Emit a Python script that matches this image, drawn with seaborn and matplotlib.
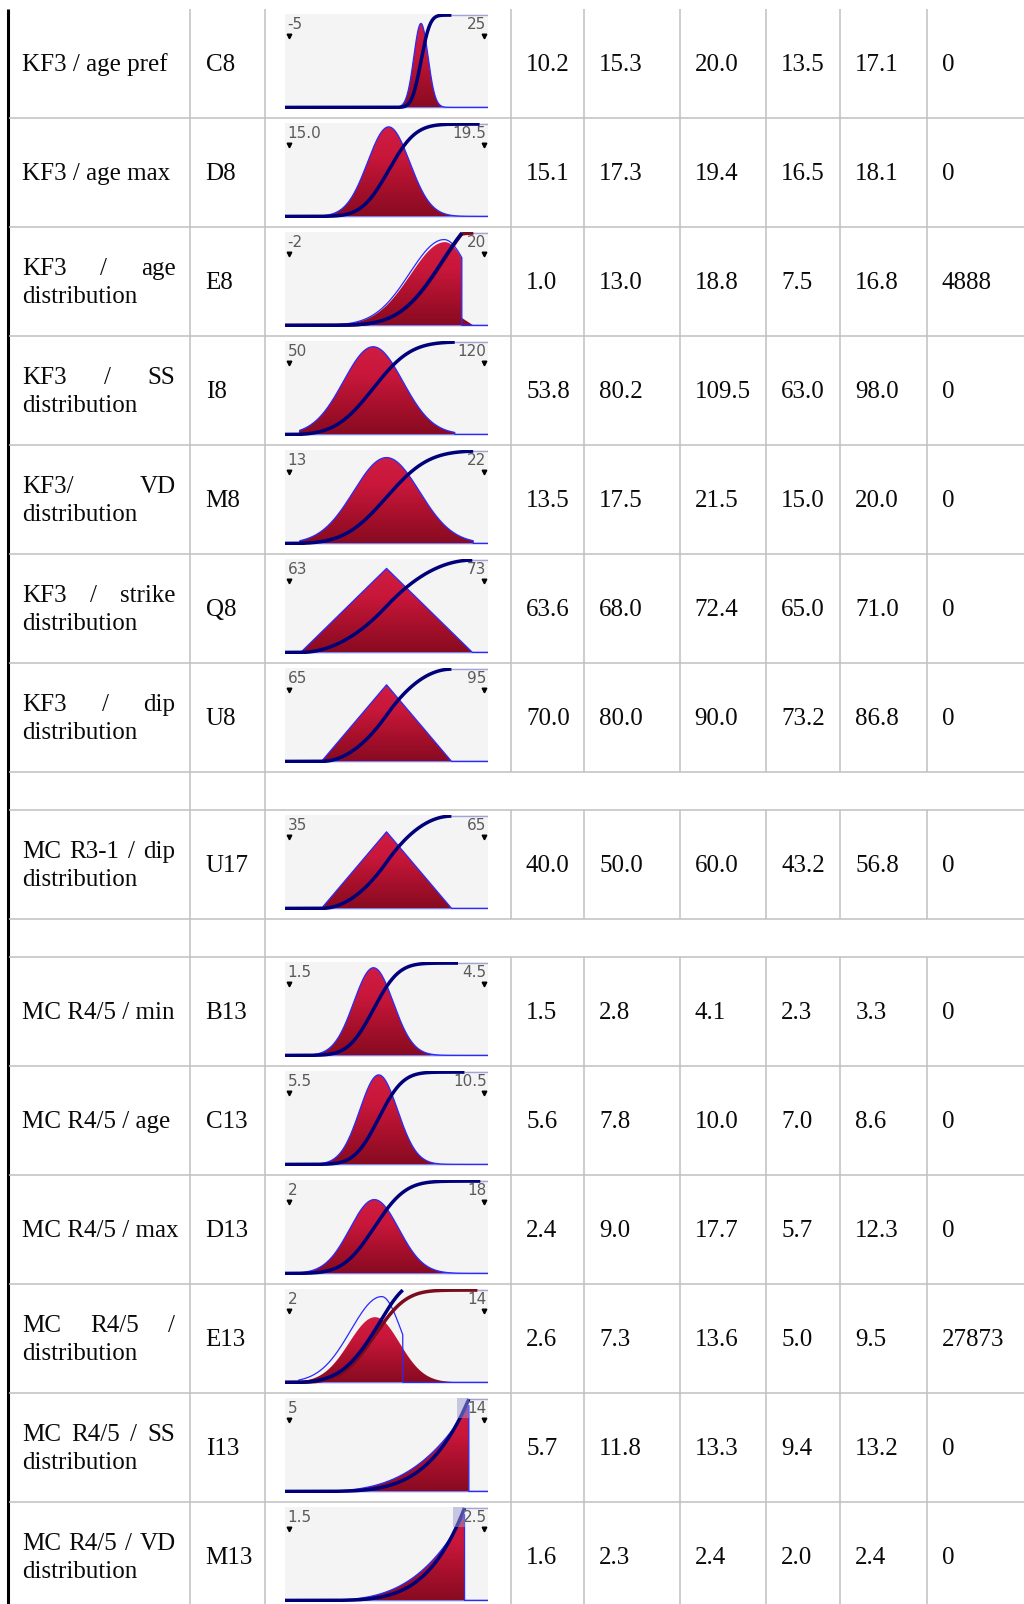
import numpy as np
import matplotlib
matplotlib.use("Agg")
import matplotlib.pyplot as plt
import matplotlib.transforms as mtransforms
from matplotlib.colors import LinearSegmentedColormap
from matplotlib.patches import Rectangle
import seaborn as sns

sns.set_theme(style="white")
plt.rcParams["font.family"] = ["Liberation Serif", "DejaVu Serif"]

# ---------------------------------------------------------------- table data
# "data" rows carry a distribution, "gap" rows are empty separator rows
row_kinds = ["data"] * 7 + ["gap"] + ["data"] + ["gap"] + ["data"] * 6

names = [
    "KF3 / age pref",
    "KF3 / age max",
    "KF3 / age\ndistribution",
    "KF3 / SS\ndistribution",
    "KF3/ VD\ndistribution",
    "KF3 / strike\ndistribution",
    "KF3 / dip\ndistribution",
    "MC R3-1 / dip\ndistribution",
    "MC R4/5 / min",
    "MC R4/5 / age",
    "MC R4/5 / max",
    "MC R4/5 /\ndistribution",
    "MC R4/5 / SS\ndistribution",
    "MC R4/5 / VD\ndistribution",
]
cells = ["C8", "D8", "E8", "I8", "M8", "Q8", "U8", "U17",
         "B13", "C13", "D13", "E13", "I13", "M13"]
p_min = [10.2, 15.1, 1.0, 53.8, 13.5, 63.6, 70.0, 40.0, 1.5, 5.6, 2.4, 2.6, 5.7, 1.6]
p_mean = [15.3, 17.3, 13.0, 80.2, 17.5, 68.0, 80.0, 50.0, 2.8, 7.8, 9.0, 7.3, 11.8, 2.3]
p_max = [20.0, 19.4, 18.8, 109.5, 21.5, 72.4, 90.0, 60.0, 4.1, 10.0, 17.7, 13.6, 13.3, 2.4]
p_05 = [13.5, 16.5, 7.5, 63.0, 15.0, 65.0, 73.2, 43.2, 2.3, 7.0, 5.7, 5.0, 9.4, 2.0]
p_95 = [17.1, 18.1, 16.8, 98.0, 20.0, 71.0, 86.8, 56.8, 3.3, 8.6, 12.3, 9.5, 13.2, 2.4]
errors = [0, 0, 4888, 0, 0, 0, 0, 0, 0, 0, 0, 27873, 0, 0]
dist = ["normal", "normal", "sample", "normal", "normal", "triang", "triang", "triang",
        "normal", "normal", "normal", "sample", "power", "power"]
axis_lo = ["-5", "15.0", "-2", "50", "13", "63", "65", "35", "1.5", "5.5", "2", "2", "5", "1.5"]
axis_hi = ["25", "19.5", "20", "120", "22", "73", "95", "65", "4.5", "10.5", "18", "14", "14", "2.5"]
peak_h = [0.91, 0.97, 0.93, 0.95, 0.93, 0.91, 0.83, 0.83, 0.95, 0.97, 0.80, 0.93, 0.93, 0.93]

# sampled rows: fitted curve (mode, left sd, right sd, cut-off)
fit_curve = {"E8": (15.5, 3.9, 2.9, 17.5), "E13": (7.7, 1.9, 1.2, 9.0)}
# sampled rows: histogram (mode, left sd, right sd, cut-off, tail height, relative height)
hist_curve = {"E8": (15.6, 3.9, 2.9, 17.5, 0.09, 0.97), "E13": (7.3, 1.6, 1.5, 13.6, 0.0, 0.76)}

# ---------------------------------------------------------------- layout
W, H, DPI = 1024, 1604, 100
TABLE_TOP = 8.5
ROW_H = {"data": 109.0, "gap": 38.0}
COL_LINES = [190, 265, 510.5, 584, 679.7, 766, 840, 927]
NAME_X0, NAME_X1 = 22, 175.5
CELL_X = 205.7
NUM_X = [526, 599.3, 694.7, 781.3, 855.3, 942]
THUMB_X0, THUMB_X1 = 285, 488
GRID_COLOR = "#c0c0c0"
TEXT_COLOR = "#0a0a0a"
FS = 18.0

fig = plt.figure(figsize=(W / DPI, H / DPI), dpi=DPI, facecolor="white")
bg = fig.add_axes([0, 0, 1, 1])
bg.set_xlim(0, W)
bg.set_ylim(H, 0)
bg.axis("off")
renderer = fig.canvas.get_renderer()

red_cmap = LinearSegmentedColormap.from_list("crimson", ["#880b21", "#a8102c", "#c8173b", "#d01c42"])


def put_line(text, y, justify):
    kw = dict(fontsize=FS, color=TEXT_COLOR, va="baseline", ha="left")
    words = text.split()
    if not justify or len(words) < 2:
        bg.text(NAME_X0, y, text, **kw)
        return
    arts = [bg.text(0, y, w, **kw) for w in words]
    widths = [a.get_window_extent(renderer).width for a in arts]
    gap = (NAME_X1 - NAME_X0 - sum(widths)) / (len(words) - 1)
    x = NAME_X0
    for a, w in zip(arts, widths):
        a.set_x(x)
        x += w + gap


def split_normal(x, mode, sdl, sdr):
    sd = np.where(x < mode, sdl, sdr)
    return np.exp(-0.5 * ((x - mode) / sd) ** 2)


def cdf_of(x, d):
    c = np.concatenate([[0.0], np.cumsum(0.5 * (d[1:] + d[:-1]) * np.diff(x))])
    return c / c[-1]


def draw_thumb(ax, i):
    lo, hi = float(axis_lo[i]), float(axis_hi[i])
    pad = (hi - lo) * 4 / 195
    x0, x1 = lo - pad, hi + pad
    ax.set_facecolor("#f4f4f4")
    for s in ax.spines.values():
        s.set_visible(False)
    ax.set_xticks([])
    ax.set_yticks([])

    a, m, b = p_min[i], p_mean[i], p_max[i]
    kind = dist[i]
    cuts = [a, b]
    if kind == "sample":
        cuts += [fit_curve[cells[i]][3], hist_curve[cells[i]][3]]
    grid = np.linspace(x0, x1, 1500)
    x = np.sort(np.concatenate([grid, np.array(cuts) - 1e-6, np.array(cuts)]))

    cdfs = []
    if kind == "normal":
        sd = (p_95[i] - p_05[i]) / (2 * 1.645)
        d = np.exp(-0.5 * ((x - m) / sd) ** 2)
        d[(x < a) | (x >= b)] = 0
        fill = d / d.max() * peak_h[i]
        outline = fill
        cdfs.append((x, cdf_of(x, d), b, "#00007a"))
    elif kind == "triang":
        d = np.where(x < m, (x - a) / (m - a), (b - x) / (b - m))
        d = np.clip(d, 0, None)
        fill = d / d.max() * peak_h[i]
        outline = fill
        cdfs.append((x, cdf_of(x, d), b, "#00007a"))
    elif kind == "power":
        shape = np.log(0.05) / np.log((p_05[i] - a) / (b - a))
        u = (x - a) / (b - a)
        d = np.where((u >= 0) & (u < 1), np.clip(u, 0, 1) ** (shape - 1), 0.0)
        fill = d / d.max() * peak_h[i]
        outline = fill
        cdfs.append((x, cdf_of(x, d), b, "#00007a"))
    else:
        fm, fsl, fsr, fcut = fit_curve[cells[i]]
        hm, hsl, hsr, hcut, tail, rel = hist_curve[cells[i]]
        df = split_normal(x, fm, fsl, fsr)
        df[(x < a) | (x >= fcut)] = 0
        dh = split_normal(x, hm, hsl, hsr)
        dh[(x < a) | (x >= hcut)] = 0
        if tail > 0:
            seg = (x >= hcut) & (x < b)
            dh[seg] = tail * (1 - (x[seg] - hcut) / (b - hcut))
        outline = df / df.max() * peak_h[i]
        fill = dh / dh[x < hcut].max() * peak_h[i] * rel
        cdfs.append((x, cdf_of(x, dh), b, "#7a0c1c"))
        cdfs.append((x, cdf_of(x, df), fcut, "#00007a"))

    # thin frame line along zero
    ax.axhline(0, color="#7d7df2", lw=1.0, zorder=1)

    # gradient-filled density
    poly = ax.fill_between(x, 0, fill, facecolor="none", edgecolor="none", zorder=2)
    grad = np.linspace(0, 1, 256).reshape(-1, 1)
    im = ax.imshow(grad, cmap=red_cmap, origin="lower", aspect="auto",
                   extent=[x0, x1, 0, max(fill.max(), 0.01)], zorder=2, interpolation="bilinear")
    im.set_clip_path(poly.get_paths()[0], transform=ax.transData)

    sns.lineplot(x=x, y=outline, ax=ax, color="#2a2aff", lw=0.9, sort=False,
                 estimator=None, zorder=3)

    end_top = max(c[2] for c in cdfs)
    ax.plot([end_top, x1], [1, 1], color="#a3a3d6", lw=1.0, zorder=3)
    for cx, cy, cend, col in cdfs:
        keep = cx <= cend
        sns.lineplot(x=cx[keep], y=cy[keep], ax=ax, color=col, lw=2.5, sort=False,
                     estimator=None, zorder=4, solid_capstyle="butt")

    if kind == "power":
        # translucent marker box where the curve is cut at its upper bound
        w = (x1 - x0) * 12 / 203
        ax.add_patch(Rectangle((b - w, 0.79), w, 0.23, facecolor="#9a9ad0", alpha=0.5,
                               edgecolor="none", zorder=7))

    ax.set_xlim(x0, x1)
    ax.set_ylim(-0.012, 1.012)

    # range labels with small tick markers
    tkw = dict(transform=ax.transAxes, fontsize=11, color="#5a5a5a", va="top",
               family=["DejaVu Sans"], zorder=6)
    ax.text(0.012, 0.965, axis_lo[i], ha="left", **tkw)
    ax.text(0.993, 0.965, axis_hi[i], ha="right", **tkw)
    trans = mtransforms.blended_transform_factory(ax.transData, ax.transAxes)
    ax.plot([lo, hi], [0.765, 0.765], ls="none", marker="v", ms=3.3, color="black",
            transform=trans, zorder=6, clip_on=False)


# ---------------------------------------------------------------- draw table
y = TABLE_TOP
row_tops = []
for k in row_kinds:
    row_tops.append(y)
    y += ROW_H[k]

# grid lines
bg.plot([7.5, 7.5], [TABLE_TOP, H], color="black", lw=2.2, solid_capstyle="butt")
for t in row_tops[1:]:
    bg.plot([8.6, W], [t, t], color=GRID_COLOR, lw=1.1, solid_capstyle="butt")
for cx in COL_LINES:
    for t, k in zip(row_tops, row_kinds):
        if k == "gap" and cx > 300:
            continue
        bg.plot([cx, cx], [t, min(t + ROW_H[k], H)], color=GRID_COLOR, lw=1.1,
                solid_capstyle="butt")

di = 0
for t, k in zip(row_tops, row_kinds):
    if k == "gap":
        continue
    center = t + ROW_H[k] / 2
    lines = names[di].split("\n")
    if len(lines) == 1:
        put_line(lines[0], center + 8.3, False)
    else:
        put_line(lines[0], center - 13.85 + 8.3, True)
        put_line(lines[1], center + 13.85 + 8.3, False)
    bg.text(CELL_X, center + 8.3, cells[di], fontsize=FS, color=TEXT_COLOR, va="baseline")
    vals = [f"{p_min[di]:.1f}", f"{p_mean[di]:.1f}", f"{p_max[di]:.1f}",
            f"{p_05[di]:.1f}", f"{p_95[di]:.1f}", f"{errors[di]}"]
    for vx, v in zip(NUM_X, vals):
        bg.text(vx, center + 8.3, v, fontsize=FS, color=TEXT_COLOR, va="baseline")

    ty0 = t + 5.5
    ty1 = t + 100.0
    ax = fig.add_axes([THUMB_X0 / W, 1 - ty1 / H, (THUMB_X1 - THUMB_X0) / W, (ty1 - ty0) / H])
    draw_thumb(ax, di)
    di += 1

fig.savefig("out.png", dpi=DPI, facecolor="white")
